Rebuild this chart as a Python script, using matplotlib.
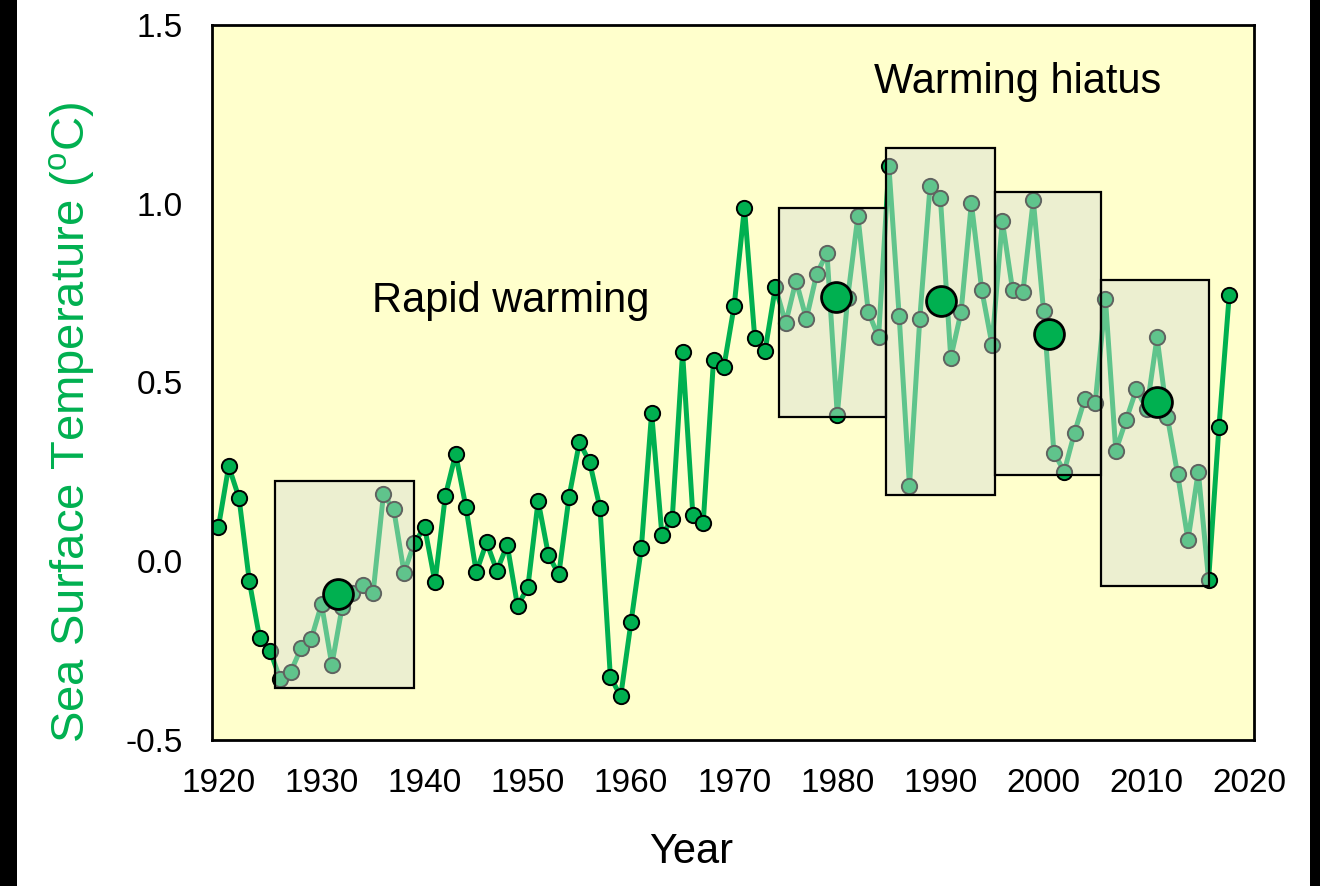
import matplotlib
matplotlib.use("Agg")
import matplotlib.pyplot as plt
from matplotlib.patches import Rectangle
import numpy as np

plt.rcParams['font.family'] = ['Liberation Sans', 'DejaVu Sans']
plt.rcParams['mathtext.fontset'] = 'custom'
plt.rcParams['mathtext.rm'] = 'Liberation Sans'

# Annual sea surface temperature anomaly
years = list(range(1920, 2019))
sst = [
    0.095, 0.266, 0.177, -0.056, -0.215, -0.250, -0.330, -0.310, -0.244, -0.217,
    -0.120, -0.290, -0.127, -0.088, -0.066, -0.088, 0.187, 0.145, -0.032, 0.052,
    0.095, -0.059, 0.183, 0.300, 0.151, -0.031, 0.053, -0.027, 0.046, -0.125,
    -0.073, 0.169, 0.017, -0.037, 0.181, 0.333, 0.277, 0.148, -0.323, -0.378,
    -0.171, 0.036, 0.415, 0.073, 0.119, 0.584, 0.128, 0.106, 0.563, 0.543,
    0.714, 0.989, 0.624, 0.589, 0.767, 0.666, 0.785, 0.678, 0.803, 0.863,
    0.409, 0.735, 0.966, 0.698, 0.626, 1.106, 0.686, 0.211, 0.679, 1.051,
    1.015, 0.569, 0.697, 1.002, 0.760, 0.606, 0.952, 0.758, 0.754, 1.010,
    0.700, 0.304, 0.251, 0.360, 0.454, 0.442, 0.733, 0.309, 0.395, 0.481,
    0.425, 0.626, 0.404, 0.243, 0.059, 0.251, -0.052, 0.375, 0.745,
]

# Decadal windows: year span and temperature range
box_start = [1925.5, 1974.33, 1984.73, 1995.27, 2005.58]
box_end = [1939.0, 1984.73, 1995.27, 2005.58, 2016.02]
box_low = [-0.355, 0.404, 0.185, 0.242, -0.069]
box_high = [0.224, 0.987, 1.157, 1.034, 0.787]

# Window means
mean_year = [1931.6, 1979.9, 1990.1, 2000.5, 2011.0]
mean_sst = [-0.092, 0.740, 0.728, 0.635, 0.446]

y_ticks = [-0.5, 0.0, 0.5, 1.0, 1.5]
x_ticks = list(range(1920, 2021, 10))

green = '#00B050'

fig = plt.figure(figsize=(13.2, 8.86), dpi=100)
fig.patch.set_facecolor('white')
ax = fig.add_axes([212 / 1320, 1 - 740 / 886, (1254 - 212) / 1320, (740 - 25) / 886])
ax.set_facecolor('#FFFFCC')

ax.plot(years, sst, color=green, lw=3.6, marker='o', markersize=11,
        markerfacecolor=green, markeredgecolor='black', markeredgewidth=1.4,
        zorder=2)

for x0, x1, lo, hi in zip(box_start, box_end, box_low, box_high):
    ax.add_patch(Rectangle((x0, lo), x1 - x0, hi - lo,
                           facecolor=(0.84, 0.865, 0.84, 0.45),
                           edgecolor='black', lw=1.6, zorder=3))

ax.scatter(mean_year, mean_sst, s=21.5 ** 2, color=green, edgecolor='black',
           linewidth=2, zorder=4)

ax.text(1997.5, 1.31, 'Warming hiatus', fontsize=30, ha='center',
        va='baseline', zorder=5)
ax.text(1948.3, 0.698, 'Rapid warming', fontsize=30, ha='center',
        va='baseline', zorder=5)

ax.set_xlim(1919.38, 2020.4)
ax.set_ylim(-0.5, 1.5)
ax.set_xticks(x_ticks)
ax.set_yticks(y_ticks)
ax.set_yticklabels([f'{v:.1f}' for v in y_ticks])
ax.tick_params(axis='both', length=0, labelsize=24)
ax.tick_params(axis='y', pad=21)
ax.tick_params(axis='x', pad=20)
for s in ax.spines.values():
    s.set_linewidth(2)
    s.set_color('black')

fig.text(72 / 1320, 1 - 422 / 886, r'Sea Surface Temperature ($^{\mathrm{o}}$C)',
         rotation=90, ha='center', va='center', fontsize=34, color=green)
fig.text(691 / 1320, 1 - 852 / 886, 'Year', ha='center', va='center',
         fontsize=30)

# Dark frame edges
fig.patches.append(Rectangle((0, 0), 17 / 1320, 1, transform=fig.transFigure,
                             facecolor='black', edgecolor='none', zorder=10))
fig.patches.append(Rectangle((1310 / 1320, 0), 10 / 1320, 1,
                             transform=fig.transFigure, facecolor='black',
                             edgecolor='none', zorder=10))

fig.savefig('out.png', dpi=100)
